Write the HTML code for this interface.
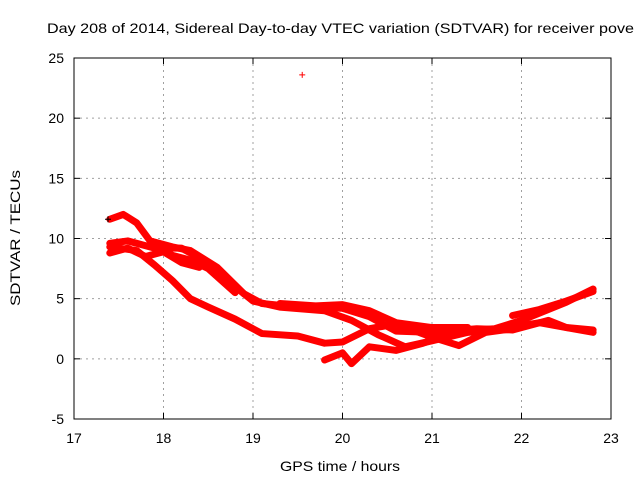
<!DOCTYPE html>
<html><head><meta charset="utf-8"><style>
body{margin:0;background:#fff}
svg text{font-family:"Liberation Sans",sans-serif;font-size:14px;fill:#000}
</style></head><body>
<svg id="chart" width="640" height="480" viewBox="0 0 640 480" xmlns="http://www.w3.org/2000/svg">
<rect width="640" height="480" fill="#fff"/>
<text x="47" y="33" textLength="587" lengthAdjust="spacingAndGlyphs">Day 208 of 2014, Sidereal Day-to-day VTEC variation (SDTVAR) for receiver pove</text>
<g id="grid"></g>
<g id="series"></g>
<rect x="74" y="58" width="537" height="361" fill="none" stroke="#000" stroke-width="1"/>
<g id="ticks"></g>
<text x="340" y="471" text-anchor="middle" textLength="120" lengthAdjust="spacingAndGlyphs">GPS time / hours</text>
<text transform="translate(20,238) rotate(-90)" text-anchor="middle" textLength="136" lengthAdjust="spacingAndGlyphs">SDTVAR / TECUs</text>
</svg>
<script>
const xTicks=[17,18,19,20,21,22,23];
const yTicks=[-5,0,5,10,15,20,25];
const track1=[[17.4,11.6],[17.55,12],[17.7,11.3],[17.85,9.8],[18.1,9.3],[18.3,9],[18.6,7.6],[18.9,5.4],[19.1,4.6],[19.5,4.3],[20,4.2],[20.3,3.5],[20.6,2.3],[21,2.2],[21.5,2.5],[21.9,2.4],[22.3,3.2],[22.5,2.6],[22.8,2.4]];
const track2=[[17.4,9.6],[17.6,9.8],[17.9,9.2],[18.2,9.2],[18.5,8],[18.8,6],[19.0,4.8],[19.3,4.3],[19.8,4],[20.1,3.2],[20.4,2],[20.7,1],[21,1.5],[21.4,2.2],[21.8,2.5],[22.2,3],[22.5,2.6],[22.8,2.2]];
const track3=[[17.4,9.3],[17.7,9],[17.9,7.8],[18.1,6.5],[18.3,5],[18.5,4.3],[18.8,3.3],[19.1,2.1],[19.5,1.9],[19.8,1.3],[20,1.4],[20.3,2.5],[20.6,2.9],[21,1.8],[21.3,1.1],[21.6,2.2],[21.9,2.5]];
const track4=[[19.8,-0.1],[20,0.5],[20.1,-0.4],[20.3,1],[20.6,0.7],[20.9,1.3],[21.3,2.3],[21.7,2.5],[22,3.2],[22.5,4.7],[22.8,5.8]];
const track5=[[21.9,3.6],[22.2,4.1],[22.5,4.8],[22.8,5.6]];
const track6=[[17.4,8.8],[17.6,9.2],[17.8,8.5],[18.0,8.9],[18.2,8.0],[18.4,7.6]];
const track7=[[19.3,4.6],[19.7,4.4],[20,4.5],[20.3,4],[20.6,3],[21,2.6],[21.4,2.6]];
const track8=[[17.9,9.4],[18.1,8.6],[18.3,8.2],[18.5,7.5],[18.8,5.5]];
const tracks=[track1,track2,track3,track4,track5,track6,track7,track8];
const outlier=[19.55,23.6];
const blackPoint=[17.38,11.6];
const NS='http://www.w3.org/2000/svg';
const X=v=>74+(v-17)/6*537;
const Y=v=>419-(v+5)/30*361;
const grid=document.getElementById('grid'),ticks=document.getElementById('ticks'),ser=document.getElementById('series');
function mk(tag,attrs,parent){const e=document.createElementNS(NS,tag);for(const k in attrs)e.setAttribute(k,attrs[k]);parent.appendChild(e);return e;}
xTicks.forEach(t=>{
 if(t>17&&t<23){const g=mk('line',{x1:X(t),x2:X(t),y1:58,y2:419,stroke:'#a0a0a0','stroke-dasharray':'2,4'},grid);
 
 }
 const l=mk('text',{x:X(t),y:443,'text-anchor':'middle'},ticks);l.textContent=t;
 
 
 mk('line',{x1:X(t),x2:X(t),y1:419,y2:413,stroke:'#000'},ticks);
 mk('line',{x1:X(t),x2:X(t),y1:58,y2:64,stroke:'#000'},ticks);
});
yTicks.forEach(t=>{
 if(t>-5&&t<25){const g=mk('line',{x1:74,x2:611,y1:Y(t),y2:Y(t),stroke:'#a0a0a0','stroke-dasharray':'2,4'},grid);
 
 }
 const l=mk('text',{x:64,y:Y(t)+5,'text-anchor':'end'},ticks);l.textContent=t;
 
 
 mk('line',{x1:74,x2:80,y1:Y(t),y2:Y(t),stroke:'#000'},ticks);
 mk('line',{x1:611,x2:605,y1:Y(t),y2:Y(t),stroke:'#000'},ticks);
});
tracks.forEach(tr=>{
 const p=mk('polyline',{points:tr.map(d=>X(d[0])+','+Y(d[1])).join(' '),fill:'none',stroke:'#f00','stroke-width':7,'stroke-linejoin':'round','stroke-linecap':'round'},ser);
 
 
});
function cross(pt,col,name){
 const g=mk('path',{d:`M${X(pt[0])-3},${Y(pt[1])}h6M${X(pt[0])},${Y(pt[1])-3}v6`,stroke:col,'stroke-width':1},ser);
 
 
}
cross(outlier,'#f00','outlier-point');
cross(blackPoint,'#000','black-point');
</script>
</body></html>
